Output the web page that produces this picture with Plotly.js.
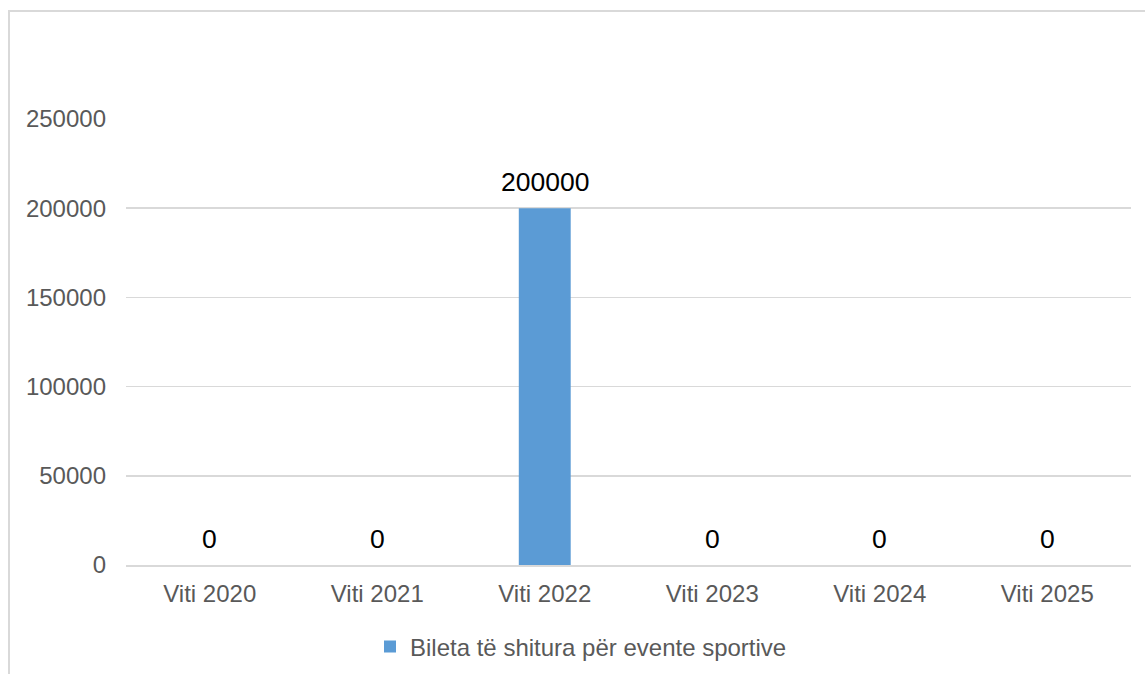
<!DOCTYPE html>
<html>
<head>
<meta charset="utf-8">
<script src="https://cdn.plot.ly/plotly-3.0.1.min.js"></script>
<style>html,body{margin:0;padding:0;background:#fff;}#chart{width:1145px;height:674px;}</style>
</head>
<body>
<div id="chart"></div>
<script>
const categories = ["Viti 2020", "Viti 2021", "Viti 2022", "Viti 2023", "Viti 2024", "Viti 2025"];
const values = [0, 0, 200000, 0, 0, 0];
const seriesName = "Bileta të shitura për evente sportive";
const yTicks = [0, 50000, 100000, 150000, 200000, 250000];

const FONT = "Liberation Sans, Arial, sans-serif";

const trace = {
  type: "bar",
  x: categories,
  y: values,
  name: seriesName,
  width: 0.31,
  marker: {color: "#5B9BD5", line: {width: 0}},
  hoverinfo: "x+y",
  cliponaxis: false
};

const annotations = categories.map((c, i) => ({
  x: c, y: values[i], xref: "x", yref: "y",
  text: String(values[i]),
  showarrow: false,
  yanchor: "bottom",
  yshift: 9.5,
  font: {family: FONT, size: 26.5, color: "#000000"}
}));

const layout = {
  width: 1145, height: 674,
  margin: {l: 126, r: 14, t: 119, b: 109, pad: 0},
  paper_bgcolor: "#ffffff",
  plot_bgcolor: "#ffffff",
  font: {family: FONT, size: 24, color: "#595959"},
  showlegend: true,
  legend: {
    orientation: "h",
    xref: "container", yref: "container",
    x: 370 / 1145, xanchor: "left",
    y: 1 - 647 / 674, yanchor: "middle",
    font: {family: FONT, size: 24, color: "#595959"},
    bgcolor: "rgba(0,0,0,0)"
  },
  xaxis: {
    type: "category",
    showgrid: false,
    showline: true, linecolor: "#D9D9D9", linewidth: 1.5,
    ticks: "",
    ticklabelstandoff: 7,
    tickfont: {family: FONT, size: 24, color: "#595959"},
    zeroline: false,
    automargin: false,
    fixedrange: true
  },
  yaxis: {
    range: [0, 250000],
    tickvals: yTicks,
    ticktext: yTicks.map(String),
    showgrid: true, gridcolor: "#D9D9D9", gridwidth: 1.5,
    zeroline: false,
    showline: false,
    ticks: "",
    ticklabelstandoff: 19,
    tickfont: {family: FONT, size: 24, color: "#595959"},
    automargin: false,
    fixedrange: true
  },
  bargap: 0.69,
  annotations: annotations,
  shapes: [{
    type: "rect", xref: "paper", yref: "paper",
    x0: (9 - 126) / 1005, x1: (1160 - 126) / 1005,
    y0: (565 - 700) / 446, y1: (565 - 11) / 446,
    line: {color: "#D9D9D9", width: 2},
    fillcolor: "rgba(0,0,0,0)",
    layer: "above"
  }]
};

Plotly.newPlot("chart", [trace], layout, {displayModeBar: false, staticPlot: true});
</script>
</body>
</html>
